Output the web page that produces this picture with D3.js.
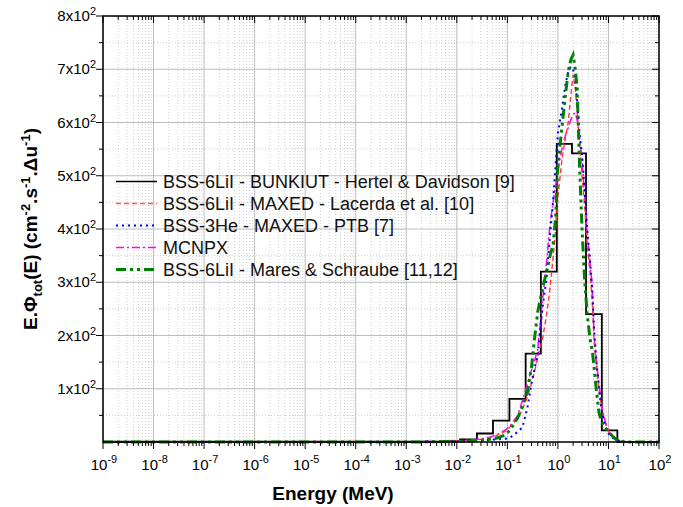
<!DOCTYPE html>
<html><head><meta charset="utf-8">
<script src="https://cdn.jsdelivr.net/npm/d3@7"></script>
<style>
html,body{margin:0;padding:0;background:#fff;}
svg{display:block;font-family:"Liberation Sans",Arial,sans-serif;}
</style></head>
<body><svg id="c" width="683" height="507"></svg>
<script>
// ---------- data ----------
const energyGrid = [1e-9,1e-7,1e-5,1e-3,0.005,0.01,0.02,0.03,0.045,0.06,0.09,0.112,0.16,0.2,0.25,0.3,0.35,0.4,0.5,0.6,0.7,0.8,0.9,1.0,1.2,1.4,1.6,1.8,2.0,2.2,2.4,2.7,3.0,3.4,3.8,4.3,4.8,5.2,5.8,6.5,7.3,8.5,10,12,14.5,18,25,40,100];
const lacerdaValues = [0,0,0,0.5,1,2,3.5,5,8,12,20,28,45,62,85,110,135,160,195,240,290,345,400,460,530,570,600,650,690,665,620,560,500,440,370,320,260,190,140,100,65,38,20,10,4,1,0,0,0];
const ptbValues     = [0,0,0,0,0.5,1,2,3,4,5,6,8,19,28,65,110,140,165,255,310,390,450,520,580,625,670,695,705,700,680,640,575,540,470,400,345,280,210,150,100,60,32,16,8,3,1,0,0,0];
const mcnpxValues   = [0,0,0,0.5,1,2,4,6,9,13,22,30,50,79,110,135,155,175,270,340,410,450,480,510,550,575,590,605,615,618,605,570,530,460,390,340,290,200,150,110,70,40,22,11,5,1,0,0,0];
const maresValues   = [0,0,0,0,0.5,1,2,3,5,7,13,22,45,68,95,140,200,245,290,320,350,370,420,520,590,650,695,718,727,700,665,510,400,300,240,195,170,140,95,55,38,27,19,11,4,1,0,0,0];
const bunkiutEdges  = [1e-9,0.0055,0.0116,0.025,0.052,0.11,0.23,0.46,0.95,1.9,3.6,7.4,15,100];
const bunkiutValues = [0.5,1.5,5,16,40,81,166,320,560,542,240,22,0,0];
const yTickValues = [100,200,300,400,500,600,700,800];
const yTickMantissa = ["1","2","3","4","5","6","7","8"];
const xTickExponents = [-9,-8,-7,-6,-5,-4,-3,-2,-1,0,1,2];
const legendLabels = [
  "BSS-6LiI - BUNKIUT - Hertel & Davidson [9]",
  "BSS-6LiI - MAXED - Lacerda et al. [10]",
  "BSS-3He - MAXED - PTB [7]",
  "MCNPX",
  "BSS-6LiI - Mares & Schraube [11,12]"
];

// ---------- layout ----------
const svg = d3.select("#c");
const L = 103, T = 16, R = 659, B = 442;
const x = d3.scaleLog().domain([1e-9,1e2]).range([L,R]);
const y = d3.scaleLinear().domain([0,800]).range([B,T]);

// grid
const g = svg.append("g");
const minorX = [];
for (let e=-9;e<2;e++) for (let m=2;m<=9;m++) minorX.push(m*Math.pow(10,e));
const majorX = xTickExponents.map(e=>Math.pow(10,e));
const minorY = d3.range(50,800,100);
g.selectAll(".mx").data(minorX).enter().append("line")
 .attr("x1",d=>x(d)).attr("x2",d=>x(d)).attr("y1",T).attr("y2",B)
 .attr("stroke","#cfcfcf").attr("stroke-width",1).attr("stroke-dasharray","1,2");
g.selectAll(".my").data(minorY).enter().append("line")
 .attr("x1",L).attr("x2",R).attr("y1",d=>y(d)).attr("y2",d=>y(d))
 .attr("stroke","#cfcfcf").attr("stroke-width",1).attr("stroke-dasharray","1,2");
g.selectAll(".Mx").data(majorX).enter().append("line")
 .attr("x1",d=>x(d)).attr("x2",d=>x(d)).attr("y1",T).attr("y2",B)
 .attr("stroke","#bdbdbd").attr("stroke-width",1);
g.selectAll(".My").data(yTickValues).enter().append("line")
 .attr("x1",L).attr("x2",R).attr("y1",d=>y(d)).attr("y2",d=>y(d))
 .attr("stroke","#bdbdbd").attr("stroke-width",1);

// curves
const line = d3.line().x(d=>x(d[0])).y(d=>y(d[1]));
function curve(vals,color,width,dash){
  svg.append("path").datum(energyGrid.map((e,i)=>[e,vals[i]]))
   .attr("d",line).attr("fill","none").attr("stroke",color)
   .attr("stroke-width",width).attr("stroke-dasharray",dash);
}
// black step
svg.append("path").datum(bunkiutEdges.map((e,i)=>[e,bunkiutValues[i]]))
 .attr("d",d3.line().x(d=>x(d[0])).y(d=>y(d[1])).curve(d3.curveStepAfter))
 .attr("fill","none").attr("stroke","#000").attr("stroke-width",1.8);
curve(mcnpxValues,"#ff00ff",1.5,"8,3,2,3");
curve(lacerdaValues,"#ff3838",1.4,"5,3");
curve(ptbValues,"#0000ff",2,"2,4");
curve(maresValues,"#008000",3,"10,4,3,4,3,4");

// frame
svg.append("rect").attr("x",L).attr("y",T).attr("width",R-L).attr("height",B-T)
 .attr("fill","none").attr("stroke","#000").attr("stroke-width",1.5);

// ticks
const tk = svg.append("g").attr("stroke","#000").attr("stroke-width",1);
minorX.forEach(d=>{
  tk.append("line").attr("x1",x(d)).attr("x2",x(d)).attr("y1",B).attr("y2",B+4);
  tk.append("line").attr("x1",x(d)).attr("x2",x(d)).attr("y1",T).attr("y2",T+4);
});
majorX.forEach(d=>{
  tk.append("line").attr("x1",x(d)).attr("x2",x(d)).attr("y1",B).attr("y2",B+7);
  tk.append("line").attr("x1",x(d)).attr("x2",x(d)).attr("y1",T).attr("y2",T+7);
});
minorY.forEach(d=>{
  tk.append("line").attr("x1",L-4).attr("x2",L).attr("y1",y(d)).attr("y2",y(d));
  tk.append("line").attr("x1",R-4).attr("x2",R).attr("y1",y(d)).attr("y2",y(d));
});
yTickValues.forEach(d=>{
  tk.append("line").attr("x1",L-7).attr("x2",L).attr("y1",y(d)).attr("y2",y(d));
  tk.append("line").attr("x1",R-7).attr("x2",R).attr("y1",y(d)).attr("y2",y(d));
});

// y labels
yTickValues.forEach((d,i)=>{
  const t = svg.append("text").attr("x",96).attr("y",y(d)+5).attr("text-anchor","end")
    .attr("font-size",15).attr("fill","#000");
  t.append("tspan").text(yTickMantissa[i]+"x10");
  t.append("tspan").attr("dy",-6).attr("font-size",11).text("2");
});
// x labels
xTickExponents.forEach(e=>{
  const t = svg.append("text").attr("x",x(Math.pow(10,e))+1).attr("y",470).attr("text-anchor","middle")
    .attr("font-size",15).attr("fill","#000");
  t.append("tspan").text("10");
  t.append("tspan").attr("dy",-7).attr("font-size",11).text(String(e));
});

// axis titles
svg.append("text").attr("x",333).attr("y",500).attr("text-anchor","middle")
 .attr("font-size",19).attr("font-weight","bold").text("Energy (MeV)");
const yt = svg.append("text").attr("transform",`translate(37,${(T+B)/2}) rotate(-90)`)
 .attr("text-anchor","middle").attr("font-size",19).attr("font-weight","bold");
yt.append("tspan").text("E.Φ");
yt.append("tspan").attr("dy",5).attr("font-size",13).text("tot");
yt.append("tspan").attr("dy",-5).text("(E) (cm");
yt.append("tspan").attr("dy",-7).attr("font-size",13).text("-2");
yt.append("tspan").attr("dy",7).text(".s");
yt.append("tspan").attr("dy",-7).attr("font-size",13).text("-1");
yt.append("tspan").attr("dy",7).text(".Δu");
yt.append("tspan").attr("dy",-7).attr("font-size",13).text("-1");
yt.append("tspan").attr("dy",7).text(")");

// legend
const legStyles = [
  {c:"#000",w:1.6,d:null},
  {c:"#ff5a5a",w:1.4,d:"5,3"},
  {c:"#0000ff",w:2,d:"2,4"},
  {c:"#ff00ff",w:1.5,d:"8,3,2,3"},
  {c:"#008000",w:3,d:"10,4,3,4,3,4"}
];
legendLabels.forEach((lab,i)=>{
  const yy = 181.5 + i*22;
  svg.append("line").attr("x1",116).attr("x2",157).attr("y1",yy).attr("y2",yy)
   .attr("stroke",legStyles[i].c).attr("stroke-width",legStyles[i].w)
   .attr("stroke-dasharray",legStyles[i].d);
  svg.append("text").attr("x",163).attr("y",yy+6.5).attr("font-size",18).attr("fill","#111").text(lab);
});
</script></body></html>
